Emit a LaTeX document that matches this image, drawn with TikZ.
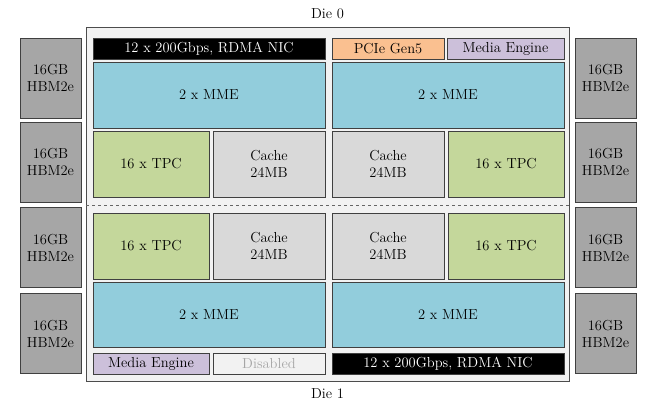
\documentclass[tikz,border=0pt]{standalone}
\usepackage{xcolor}

\definecolor{mmeblue}{HTML}{92CDDC}
\definecolor{tpcgreen}{HTML}{C4D79B}
\definecolor{cachegray}{HTML}{D9D9D9}
\definecolor{pcieorange}{HTML}{FAC090}
\definecolor{medialilac}{HTML}{CCC0DA}
\definecolor{hbmgray}{HTML}{A6A6A6}
\definecolor{diebg}{HTML}{F2F2F2}

\tikzset{
  block/.style={draw=black!75, line width=0.8pt, inner sep=0pt, align=center,
    font=\fontsize{14.5}{17}\selectfont},
  bigbox/.style={block, minimum width=232pt, minimum height=66pt, fill=mmeblue},
  halfbox/.style={block, minimum height=66pt},
  barbox/.style={block, minimum height=21pt},
  hbmbox/.style={block, fill=hbmgray, minimum width=61pt, minimum height=80pt}
}

\begin{document}
\begin{tikzpicture}[x=1pt, y=-1pt]
\useasboundingbox (0,0) rectangle (651,413);

% Die outline
\draw[draw=black!70, fill=diebg, line width=0.8pt] (86,27) rectangle (569,381);
\draw[dashed, draw=black!60, line width=0.8pt] (86,205) -- (569,205);
\node[font=\fontsize{14.5}{17}\selectfont] (die0) at (327.5,14) {Die 0};
\node[font=\fontsize{14.5}{17}\selectfont] (die1) at (327.5,394) {Die 1};

% HBM stacks
\node[hbmbox] (hbmL1) at (50.5,78) {16GB\\HBM2e};
\node[hbmbox] (hbmL2) at (50.5,162) {16GB\\HBM2e};
\node[hbmbox] (hbmL3) at (50.5,247.5) {16GB\\HBM2e};
\node[hbmbox] (hbmL4) at (50.5,333.5) {16GB\\HBM2e};
\node[hbmbox] (hbmR1) at (605.5,78) {16GB\\HBM2e};
\node[hbmbox] (hbmR2) at (605.5,162) {16GB\\HBM2e};
\node[hbmbox] (hbmR3) at (605.5,247.5) {16GB\\HBM2e};
\node[hbmbox] (hbmR4) at (605.5,333.5) {16GB\\HBM2e};

% Die 0
\node[barbox, fill=black, text=white, minimum width=232pt] (nic0) at (209,48.5) {12 x 200Gbps, RDMA NIC};
\node[barbox, fill=pcieorange, minimum width=112pt] (pcie) at (388,48.5) {PCIe Gen5};
\node[barbox, fill=medialilac, minimum width=117pt] (media0) at (505.5,48.5) {Media Engine};
\node[bigbox] (mme0L) at (209,95) {2 x MME};
\node[bigbox] (mme0R) at (448,95) {2 x MME};
\node[halfbox, fill=tpcgreen, minimum width=116pt] (tpc0L) at (151,164) {16 x TPC};
\node[halfbox, fill=cachegray, minimum width=112pt] (cache0L) at (269,164) {Cache\\24MB};
\node[halfbox, fill=cachegray, minimum width=112pt] (cache0R) at (388,164) {Cache\\24MB};
\node[halfbox, fill=tpcgreen, minimum width=116pt] (tpc0R) at (506,164) {16 x TPC};

% Die 1
\node[halfbox, fill=tpcgreen, minimum width=116pt] (tpc1L) at (151,246) {16 x TPC};
\node[halfbox, fill=cachegray, minimum width=112pt] (cache1L) at (269,246) {Cache\\24MB};
\node[halfbox, fill=cachegray, minimum width=112pt] (cache1R) at (388,246) {Cache\\24MB};
\node[halfbox, fill=tpcgreen, minimum width=116pt] (tpc1R) at (506,246) {16 x TPC};
\node[bigbox, minimum height=65pt] (mme1L) at (209,315) {2 x MME};
\node[bigbox, minimum height=65pt] (mme1R) at (448,315) {2 x MME};
\node[barbox, fill=medialilac, minimum width=116pt] (media1) at (151,363.5) {Media Engine};
\node[barbox, fill=diebg, text=black!35, minimum width=112pt] (disabled) at (269,363.5) {Disabled};
\node[barbox, fill=black, text=white, minimum width=232pt] (nic1) at (448,363.5) {12 x 200Gbps, RDMA NIC};

\end{tikzpicture}
\end{document}
